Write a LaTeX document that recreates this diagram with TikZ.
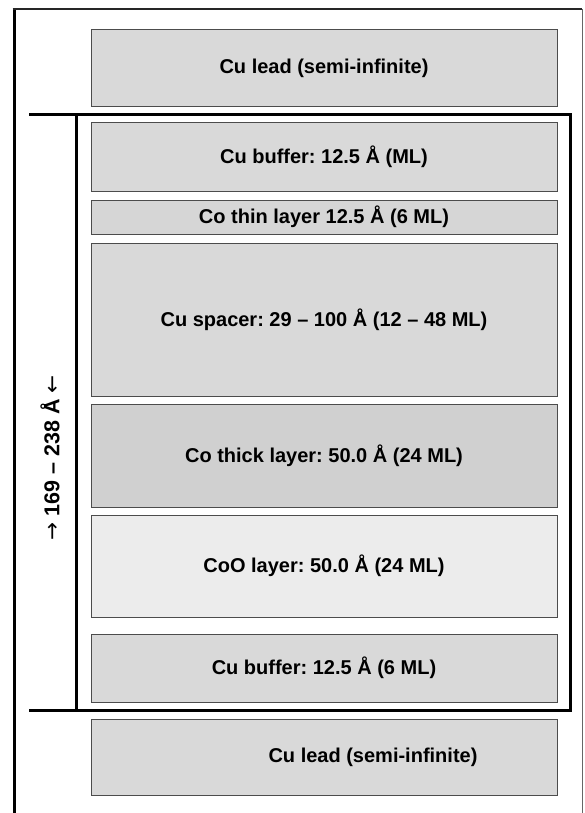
\documentclass[tikz,border=0pt]{standalone}
\usepackage{fontspec}
\setmainfont{Liberation Sans}
\newfontfamily\arrowfont{DejaVu Sans}
\frenchspacing
\definecolor{cufill}{gray}{0.85}
\definecolor{cothin}{gray}{0.84}
\definecolor{cothick}{gray}{0.815}
\definecolor{coofill}{gray}{0.925}
\definecolor{boxline}{gray}{0.3}
\begin{document}
\begin{tikzpicture}[x=1pt,y=-1pt,
  layer/.style={draw=boxline, line width=1pt, fill=cufill, minimum width=466pt,
    inner sep=0pt, font=\fontsize{20}{24}\selectfont\bfseries},
  lbl/.style={inner sep=0pt, font=\fontsize{20}{24}\selectfont\bfseries},
  frame/.style={line width=3pt, line cap=butt}]
\useasboundingbox (0,0) rectangle (584,813);
\fill[white] (0,0) rectangle (584,813);
% outer frame
\draw[line width=3pt] (14,8.5) -- (14,813);
\draw[line width=1.6pt, draw=black!85] (12.5,9) -- (582,9);
\draw[line width=1pt, draw=black!60] (582,9) -- (582,813);
% inner frame
\draw[frame] (29,115) -- (572,115);
\draw[frame] (29,710) -- (572,710);
\draw[frame] (76,115) -- (76,711.5);
\draw[frame] (570.5,113.5) -- (570.5,711.5);
% layers
\node[layer, minimum height=77pt] (leadtop) at (324,68.5) {Cu lead (semi-infinite)};
\node[layer, minimum height=68pt] (buftop) at (324,157) {Cu buffer: 12.5 Å (ML)};
\node[layer, fill=cothin, minimum height=34pt] (cothin) at (324,217) {Co thin layer 12.5 Å (6 ML)};
\node[layer, minimum height=153pt] (spacer) at (324,319.5) {Cu spacer: 29 – 100 Å (12 – 48 ML)};
\node[layer, fill=cothick, minimum height=103pt] (cothick) at (324,455.5) {Co thick layer: 50.0 Å (24 ML)};
\node[layer, fill=coofill, minimum height=102pt] (coo) at (324,566) {CoO layer: 50.0 Å (24 ML)};
\node[layer, minimum height=68pt] (bufbot) at (324,668) {Cu buffer: 12.5 Å (6 ML)};
\node[layer, minimum height=76pt] (leadbot) at (324,757) {};
\node[lbl] (leadbottext) at (373,757) {Cu lead (semi-infinite)};
% thickness label
\node[lbl, rotate=90, font=\fontsize{21.5}{24}\selectfont\bfseries] (thick) at (50,458)
  {{\arrowfont\mdseries →} 169 – 238 Å {\arrowfont\mdseries ←}};
\end{tikzpicture}
\end{document}
